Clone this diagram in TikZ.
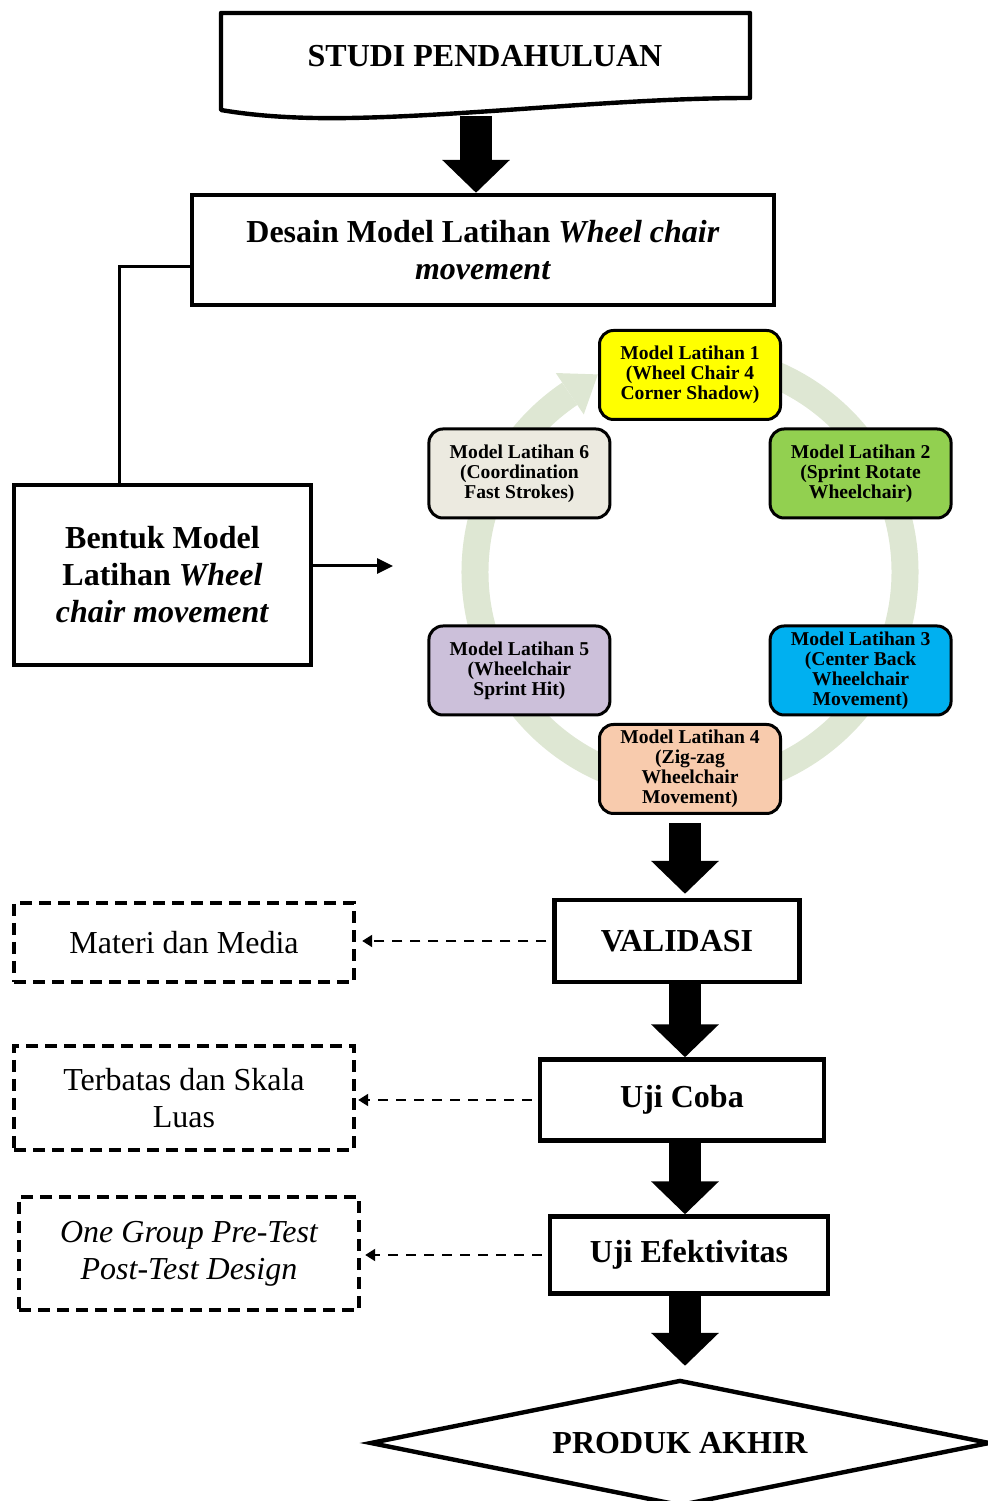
\documentclass[tikz,border=0pt]{standalone}
\usepackage{fontspec}
\setmainfont{Liberation Serif}
\definecolor{modelyellow}{RGB}{255,255,0}
\definecolor{modelgreen}{RGB}{146,208,80}
\definecolor{modelblue}{RGB}{0,176,240}
\definecolor{modelpeach}{RGB}{248,203,173}
\definecolor{modellilac}{RGB}{204,192,218}
\definecolor{modelsand}{RGB}{236,234,224}
\definecolor{ringgreen}{RGB}{222,231,211}
\usetikzlibrary{arrows.meta}
\usetikzlibrary{shapes.geometric}
\newcommand{\bigfont}{\fontsize{16}{18.5}\selectfont}
\newcommand{\smallfont}{\fontsize{9.8}{10}\selectfont\bfseries}
\newcommand{\widthmodel}{90.5pt}
\newcommand{\heightmodel}{44.5pt}
\tikzset{
    common/.style={draw, line width=2.2pt, align=center, font=\bigfont},
    stage/.style={common, font=\bigfont\bfseries},
    note/.style={common, dash pattern=on 6pt off 3.5pt, minimum width=170pt},
    model/.style={draw, line width=1.5pt, rounded corners=7pt, align=center, font=\smallfont, inner sep=1pt,
        minimum width=\widthmodel, minimum height=\heightmodel},
    bigarrow/.style={line width=16pt, -{Triangle[width=33pt, length=16.5pt]}},
    thinline/.style={line width=1.5pt},
    hint/.style={line width=1pt, dash pattern=on 5pt off 4pt, -{Triangle[length=5pt, width=6pt]}},
    ring/.style={line width=13.5pt, ringgreen}
}

\begin{document}
\begin{tikzpicture}[x=0.5pt, y=0.5pt]
    \useasboundingbox (0,0) rectangle (988,1501);

    % studi pendahuluan (document shape)
    \draw[line width=2.2pt, line join=round] (221,1488) -- (750,1488) -- (750,1403)
        .. controls (620,1403) and (470,1385) .. (350,1383)
        .. controls (290,1382) and (250,1386) .. (221,1391) -- cycle;
    \node[font=\bigfont\bfseries] (studi) at (485,1445) {STUDI PENDAHULUAN};
    \coordinate (studibot) at (476,1385);

    \node[stage, minimum width=291pt, minimum height=55pt] (desain) at (483,1251)
        {Desain Model Latihan \textit{Wheel chair}\\\textit{movement}};
    \draw[bigarrow] (studibot) -- (studibot |- desain.north);

    \node[stage, minimum width=148.5pt, minimum height=90pt] (bentuk) at (162.5,926)
        {Bentuk Model\\Latihan \textit{Wheel}\\\textit{chair movement}};
    \coordinate (elbow) at (119,1234);
    \draw[thinline] (desain.west |- elbow) -- (elbow) -- (elbow |- bentuk.north);
    \coordinate (cyclein) at (393,935);
    \draw[thinline, -{Triangle[length=8pt, width=7.5pt]}] (bentuk.east |- cyclein) -- (cyclein);

    % cycle of models
    \coordinate (hub) at (690,929);
    \draw[ring] (hub) ++(124:215) arc[start angle=124, end angle=473, radius=215];
    \fill[ringgreen, shift={(hub)}] (124:190) -- (124:240) -- (115:218) -- cycle;
    \path (hub) ++(90:197) node[model, fill=modelyellow] (lat1) {Model Latihan 1\\(Wheel Chair 4\\Corner Shadow)};
    \path (hub) ++(30:197) node[model, fill=modelgreen] (lat2) {Model Latihan 2\\(Sprint Rotate\\Wheelchair)};
    \path (hub) ++(-30:197) node[model, fill=modelblue] (lat3) {Model Latihan 3\\(Center Back\\Wheelchair\\Movement)};
    \path (hub) ++(-90:197) node[model, fill=modelpeach] (lat4) {Model Latihan 4\\(Zig-zag\\Wheelchair\\Movement)};
    \path (hub) ++(210:197) node[model, fill=modellilac] (lat5) {Model Latihan 5\\(Wheelchair\\Sprint Hit)};
    \path (hub) ++(150:197) node[model, fill=modelsand] (lat6) {Model Latihan 6\\(Coordination\\Fast Strokes)};

    % main column
    \coordinate (spine) at (685,0);
    \node[stage, minimum width=122.5pt, minimum height=41pt] (validasi) at (677,560) {VALIDASI};
    \node[stage, minimum width=142pt, minimum height=40.5pt] (ujicoba) at (682,401) {Uji Coba};
    \node[stage, minimum width=139pt, minimum height=38.5pt] (efektif) at (689,246) {Uji Efektivitas};
    \node[stage, diamond, aspect=5, inner sep=0pt, minimum width=310pt, minimum height=63pt] (produk) at (680,58) {PRODUK AKHIR};

    \draw[bigarrow, shorten <=4pt, shorten >=2pt] (spine |- lat4.south) -- (spine |- validasi.north);
    \draw[bigarrow] (spine |- validasi.south) -- (spine |- ujicoba.north);
    \draw[bigarrow] (spine |- ujicoba.south) -- (spine |- efektif.north);
    \draw[bigarrow, shorten >=6pt] (spine |- efektif.south) -- (spine |- produk.north);

    % side notes
    \node[note, minimum height=39.5pt] (materi) at (184,558.5) {Materi dan Media};
    \node[note, minimum height=52pt] (terbatas) at (184,403) {Terbatas dan Skala\\Luas};
    \node[note, minimum height=56.5pt, font=\bigfont\itshape] (desainuji) at (189,247.5) {One Group Pre-Test\\Post-Test Design};

    \draw[hint, shorten <=3pt, shorten >=3pt] (validasi.west) -- (validasi.west -| materi.east);
    \draw[hint, shorten <=3pt, shorten >=1pt] (ujicoba.west) -- (ujicoba.west -| terbatas.east);
    \draw[hint, shorten <=3pt, shorten >=2pt] (efektif.west) -- (efektif.west -| desainuji.east);
\end{tikzpicture}
\end{document}
